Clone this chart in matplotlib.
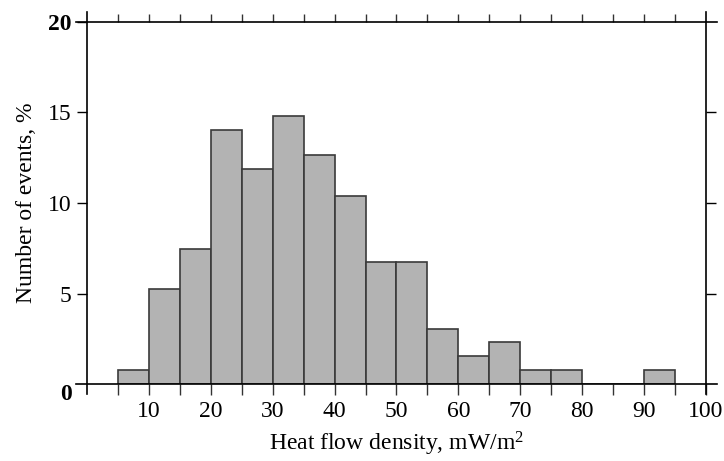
import matplotlib
matplotlib.use('Agg')
import matplotlib.pyplot as plt
import numpy as np

# histogram data, bin edges 5..95 step 5
bin_left = [5, 10, 15, 20, 25, 30, 35, 40, 45, 50, 55, 60, 65, 70, 75, 80, 85, 90]
percent = [0.8, 5.25, 7.45, 14.05, 11.9, 14.8, 12.65, 10.4, 6.75, 6.75,
           3.05, 1.55, 2.3, 0.8, 0.8, 0.0, 0.0, 0.78]

plt.rcParams['font.family'] = 'Liberation Serif'
plt.rcParams['mathtext.fontset'] = 'custom'
plt.rcParams['mathtext.rm'] = 'Liberation Serif'
plt.rcParams['mathtext.it'] = 'Liberation Serif:italic'

fig = plt.figure(figsize=(7.24, 4.61), dpi=100)
ax = fig.add_axes([87/724, 1-384/461, (706-87)/724, (384-22)/461])

ax.bar(bin_left, percent, width=5, align='edge', color='#b3b3b3',
       edgecolor='#3a3a3a', linewidth=1.2, zorder=2)

ax.set_xlim(0, 100)
ax.set_ylim(0, 20)
for s in ax.spines.values():
    s.set_visible(False)

# frame lines slightly overshooting the corners
ex = 11/619
ey = 10/362
kw = dict(color='black', lw=1.2, clip_on=False, zorder=3)
ax.plot([-ex, 1+ex], [0, 0], transform=ax.transAxes, **kw)
ax.plot([-ex, 1+ex], [1, 1], transform=ax.transAxes, **kw)
ax.plot([0, 0], [-ey, 1+ey], transform=ax.transAxes, **kw)
ax.plot([1, 1], [-ey, 1+ey], transform=ax.transAxes, **kw)

ax.set_xticks(np.arange(10, 101, 10))
ax.set_xticks(np.arange(5, 100, 10), minor=True)
ax.set_yticks([0, 5, 10, 15, 20])
ax.tick_params(axis='x', which='both', direction='out', length=8, width=1,
               labelsize=17, pad=4, color='#333333')
ax.tick_params(axis='y', which='major', direction='out', length=7, width=1,
               right=True, labelsize=17, pad=4)
ax.set_yticklabels(['0', '5', '10', '15', '20'])
for lab in ax.get_yticklabels():
    if lab.get_text() in ('0', '20'):
        lab.set_fontweight('bold')
ax.get_yticklabels()[0].set_va('top')
for t in ax.yaxis.get_major_ticks():
    t.tick2line.set_visible(t.get_loc() not in (0, 20))
    t.tick1line.set_visible(t.get_loc() != 0)

# short ticks on top edge pointing upward
sec = ax.secondary_xaxis('top')
sec.set_xticks(np.arange(10, 100, 10))
sec.set_xticks(np.arange(5, 100, 10), minor=True)
sec.tick_params(which='both', direction='out', length=6, width=1,
                labeltop=False, color='#333333')
sec.spines['top'].set_visible(False)

ax.set_xlabel('Heat flow density, mW/m$^2$', fontsize=17, labelpad=6)
ax.set_ylabel('Number of events, %', fontsize=17, labelpad=8)

fig.savefig('out.png', dpi=100)
